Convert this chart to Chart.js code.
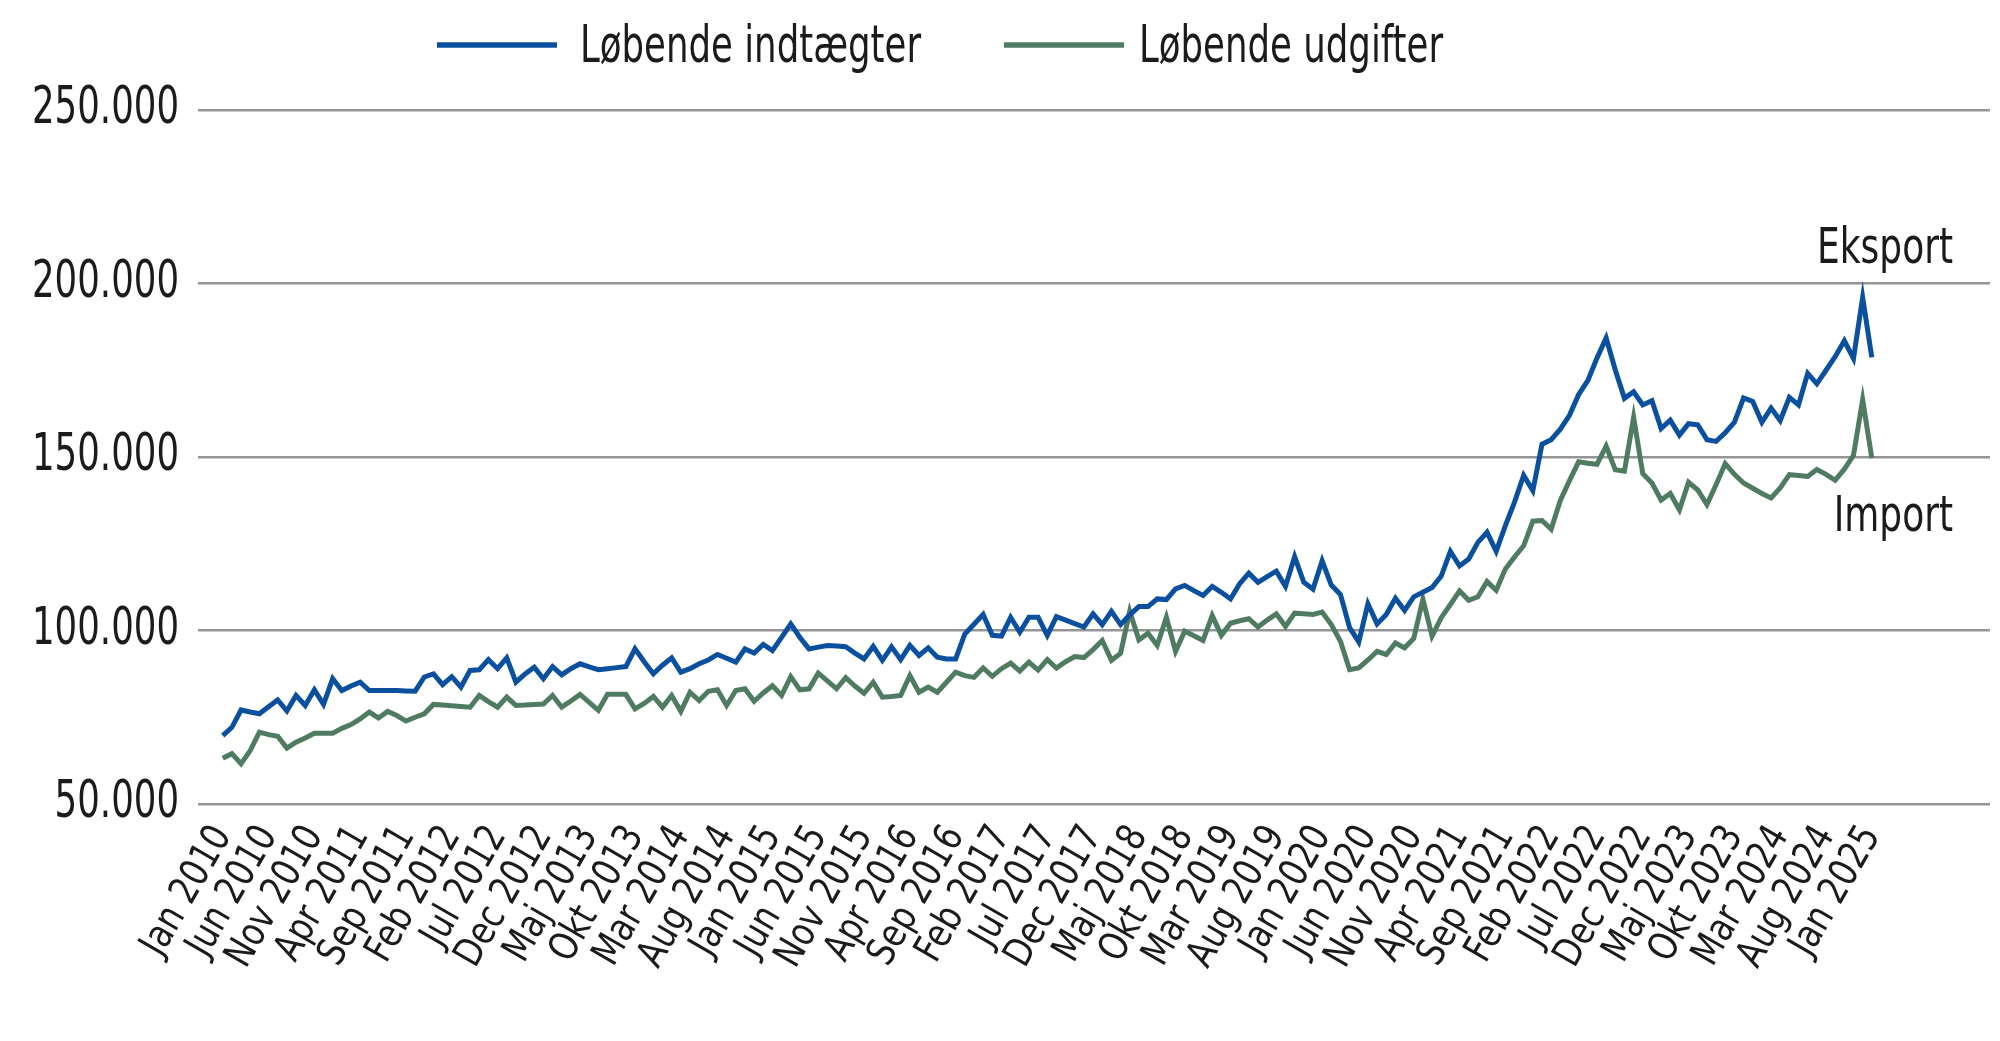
<!DOCTYPE html>
<html>
<head>
<meta charset="utf-8">
<title>Løbende indtægter og udgifter</title>
<script src="https://cdn.jsdelivr.net/npm/chart.js@4.4.1/dist/chart.umd.min.js"></script>
<style>
  html, body { margin: 0; padding: 0; background: #ffffff; }
  #wrap { width: 2000px; height: 1041px; }
</style>
</head>
<body>
<div id="wrap"><canvas id="c" width="2000" height="1041"></canvas></div>
<script>
// ---------- DATA ----------
const monthNames = ["Jan","Feb","Mar","Apr","Maj","Jun","Jul","Aug","Sep","Okt","Nov","Dec"];
const firstYear = 2010;
const monthCount = 181; // Jan 2010 .. Jan 2025
const categories = [];
for (let i = 0; i < monthCount; i++) {
  categories.push(monthNames[i % 12] + " " + (firstYear + Math.floor(i / 12)));
}
const tickStep = 5; // a label every 5th month

const seriesNames = ["Løbende indtægter", "Løbende udgifter"];
const endLabels = ["Eksport", "Import"];

const indtaegter = [
  69700, 72100, 77100, 76500, 76000, 78000, 80000, 76800, 81300, 78400,
  82900, 78700, 86100, 82700, 84000, 85100, 82700, 82700, 82700, 82700,
  82600, 82500, 86600, 87500, 84400, 86700, 83700, 88500, 88700, 91600,
  89000, 92100, 85100, 87500, 89400, 86100, 89600, 87200, 89000, 90400,
  89500, 88700, 89000, 89300, 89600, 94700, 91000, 87500, 90000, 92100,
  88000, 89000, 90400, 91500, 93100, 92000, 90900, 94700, 93500, 96000,
  94200, 98000, 101900, 98000, 94700, 95200, 95700, 95500, 95300, 93500,
  91800, 95400, 91400, 95300, 91600, 95700, 92800, 95000, 92300, 91800,
  91800, 99000, 101800, 104600, 98600, 98400, 103800, 99500, 103800, 103800,
  98600, 104000, 103000, 102000, 101000, 104800, 101700, 105500, 101700, 104500,
  106900, 106900, 109100, 108900, 112000, 113000, 111500, 110100, 112700, 111000,
  109100, 113500, 116500, 113900, 115500, 117100, 112700, 121300, 113900, 111900,
  120100, 113100, 110400, 100800, 96700, 107700, 101900, 104600, 109300, 105800,
  109700, 111000, 112400, 115700, 122800, 118600, 120600, 125400, 128300, 122800,
  130200, 137000, 144700, 140300, 153700, 155000, 158000, 162000, 168000, 172000,
  178500, 184300, 175100, 166900, 168800, 165000, 166200, 158200, 160600, 156300,
  159600, 159300, 155000, 154500, 157000, 160000, 167000, 166000, 160000, 164100,
  160500, 167200, 165000, 174100, 171100, 175000, 178900, 183500, 178400, 196000,
  178700
];

const udgifter = [
  63200, 64500, 61600, 65400, 70700, 70000, 69500, 66100, 67800, 69000,
  70400, 70400, 70400, 71800, 72900, 74500, 76500, 74800, 76700, 75500,
  73900, 75000, 76000, 78700, 78500, 78300, 78100, 77900, 81300, 79500,
  77900, 80800, 78400, 78500, 78700, 78800, 81300, 77900, 79700, 81600,
  79300, 77000, 81600, 81600, 81600, 77400, 79000, 81000, 77900, 81300,
  76700, 82200, 79800, 82500, 82900, 78400, 82700, 83200, 79600, 82000,
  84100, 81300, 86700, 82900, 83200, 87700, 85500, 83200, 86400, 84000,
  81900, 85100, 80800, 81000, 81300, 87000, 82200, 83700, 82200, 85100,
  88000, 87000, 86500, 89200, 86800, 89000, 90600, 88300, 90900, 88600,
  91600, 89200, 91000, 92500, 92200, 94500, 97100, 91400, 93400, 105500,
  97300, 99200, 95700, 103800, 94000, 99800, 98500, 97100, 104300, 98600,
  102100, 102800, 103400, 101000, 103000, 104800, 101200, 105000, 104800, 104600,
  105300, 101700, 96900, 88700, 89200, 91500, 94000, 93100, 96400, 95000,
  97700, 109000, 98400, 103700, 107500, 111400, 108700, 109700, 114100, 111600,
  117700, 121200, 124400, 131500, 131700, 129200, 137500, 143200, 148600, 148200,
  147900, 153100, 146300, 145900, 161400, 145200, 142500, 137600, 139500, 134800,
  142700, 140500, 136300, 142000, 148100, 145000, 142500, 141000, 139500, 138200,
  141100, 144900, 144700, 144400, 146400, 145000, 143300, 146500, 150500, 166500,
  149700
];

const yTicks = [50000, 100000, 150000, 200000, 250000];

// ---------- STYLE ----------
const TEXT = '#1b1b1b';
const BLUE = '#0b4f9f';
const GREEN = '#4f7c60';
const FONT_FAMILY = "'DejaVu Sans Condensed', 'DejaVu Sans', 'Liberation Sans', sans-serif";

function fmt(v) {
  return String(Math.round(v)).replace(/\B(?=(\d{3})+(?!\d))/g, '.');
}

// text metrics: choose size by cap height, then squeeze horizontally to the reference width
const mctx = document.createElement('canvas').getContext('2d');
function fontStr(size) { return size + 'px ' + FONT_FAMILY; }
function measureW(size, txt) { mctx.font = fontStr(size); return mctx.measureText(txt).width; }
mctx.font = fontStr(100);
const capRatio = mctx.measureText('H').actualBoundingBoxAscent / 100 || 0.73;
function textSpec(capPx, sample, targetW) {
  const size = Math.round(capPx / capRatio * 10) / 10;
  const k = Math.min(1, targetW / measureW(size, sample));
  return { size, k };
}
const Y_T = textSpec(37, '250.000', 147);
const X_T = textSpec(29, 'Jan 2025', 142);
const L_T = textSpec(37, 'Løbende indtægter', 341);
const E_T = textSpec(36, 'Eksport', 136);

function squeezeText(ctx, txt, x, y, spec) {
  ctx.save();
  ctx.translate(x, y);
  ctx.scale(spec.k, 1);
  ctx.fillText(txt, 0, 0);
  ctx.restore();
}

// narrow the axis labels drawn by the scales along their own baseline
const squeezeLabels = {
  id: 'squeezeLabels',
  beforeDraw(chart) {
    const specs = { x: X_T.k, y: Y_T.k };
    Object.keys(specs).forEach(id => {
      const s = chart.scales[id];
      if (!s || s._squeezed) return;
      const k = specs[id];
      const orig = s.drawLabels;
      s.drawLabels = function (area) {
        const ctx = this.ctx;
        const rot = ctx.rotate;
        ctx.rotate = function (a) { rot.call(ctx, a); ctx.scale(k, 1); };
        try { orig.call(this, area); } finally { ctx.rotate = rot; }
      };
      s._squeezed = true;
    });
  }
};

const overlay = {
  id: 'overlay',
  afterDraw(chart) {
    const ctx = chart.ctx;
    const area = chart.chartArea;
    const ys = chart.scales.y;
    ctx.save();
    ctx.fillStyle = TEXT;
    ctx.textBaseline = 'alphabetic';
    // legend
    ctx.font = fontStr(L_T.size);
    ctx.textAlign = 'left';
    const lineX = [437, 1004];
    const textX = [580, 1139];
    chart.data.datasets.forEach((ds, i) => {
      ctx.strokeStyle = ds.borderColor;
      ctx.lineWidth = 5.5;
      ctx.beginPath();
      ctx.moveTo(lineX[i], 45);
      ctx.lineTo(lineX[i] + 120, 45);
      ctx.stroke();
      squeezeText(ctx, ds.label, textX[i], 62, L_T);
    });
    // end labels
    ctx.font = fontStr(E_T.size);
    ctx.textAlign = 'right';
    squeezeText(ctx, endLabels[0], area.right - 37, ys.getPixelForValue(206000), E_T);
    squeezeText(ctx, endLabels[1], area.right - 37, ys.getPixelForValue(128800), E_T);
    ctx.restore();
  }
};

new Chart(document.getElementById('c'), {
  type: 'line',
  data: {
    datasets: [
      {
        label: seriesNames[0],
        data: indtaegter.map((v, i) => ({ x: i, y: v })),
        borderColor: BLUE,
        backgroundColor: BLUE,
        borderWidth: 5,
        pointRadius: 0,
        tension: 0
      },
      {
        label: seriesNames[1],
        data: udgifter.map((v, i) => ({ x: i, y: v })),
        borderColor: GREEN,
        backgroundColor: GREEN,
        borderWidth: 5,
        pointRadius: 0,
        tension: 0
      }
    ]
  },
  options: {
    responsive: false,
    devicePixelRatio: 1,
    animation: false,
    layout: { padding: { top: 110, right: 10, left: 0, bottom: 0 } },
    plugins: {
      legend: { display: false },
      tooltip: { enabled: false }
    },
    scales: {
      x: {
        type: 'linear',
        min: -2.7,
        max: 192.9,
        grid: { display: false, drawTicks: false },
        border: { display: false },
        afterBuildTicks(scale) {
          const t = [];
          for (let i = 0; i < categories.length; i += tickStep) t.push({ value: i });
          scale.ticks = t;
        },
        afterFit(scale) { scale.height = 237; },
        ticks: {
          autoSkip: false,
          maxRotation: 60,
          minRotation: 60,
          padding: 14,
          color: TEXT,
          font: { family: FONT_FAMILY, size: X_T.size },
          callback: (v) => categories[v]
        }
      },
      y: {
        min: 50000,
        max: 250000,
        afterBuildTicks(scale) {
          scale.ticks = yTicks.map(v => ({ value: v }));
        },
        afterFit(scale) { scale.width = 198; },
        grid: { color: '#959595', lineWidth: 2.5, drawTicks: false },
        border: { display: false },
        ticks: {
          padding: 19,
          color: TEXT,
          font: { family: FONT_FAMILY, size: Y_T.size },
          callback: (v) => fmt(v)
        }
      }
    }
  },
  plugins: [squeezeLabels, overlay]
});
</script>
</body>
</html>
